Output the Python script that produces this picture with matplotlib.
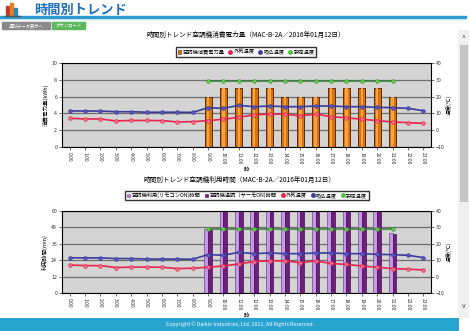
import numpy as np
import matplotlib.pyplot as plt
from matplotlib.patches import Rectangle, Patch
from matplotlib.lines import Line2D

plt.rcParams['font.family'] = ['Noto Sans CJK JP', 'DejaVu Sans']

hours = ['%d:00' % h for h in range(24)]
# kWh per hour (chart 1)
power = [0, 0, 0, 0, 0, 0, 0, 0, 0, 6, 7, 7, 7, 7, 6, 6, 6, 7, 7, 7, 7, 6, 0, 0]
# minutes per hour (chart 2)
use_remote = [0, 0, 0, 0, 0, 0, 0, 0, 0, 47, 60, 60, 60, 60, 60, 60, 60, 60, 60, 60, 60, 44, 0, 0]
use_thermo = [0, 0, 0, 0, 0, 0, 0, 0, 0, 46, 60, 60, 60, 60, 60, 60, 60, 60, 60, 60, 60, 43, 0, 0]
# temperatures (deg C)
outdoor = [7.1, 6.7, 6.7, 5.5, 5.8, 5.8, 5.7, 4.9, 5.1, 5.7, 6.5, 7.7,
           9.2, 9.6, 9.6, 8.5, 9.6, 8.0, 7.4, 6.5, 5.7, 4.9, 4.5, 4.1]
inlet = [11.5, 11.4, 11.4, 11.0, 11.0, 10.7, 10.7, 10.7, 10.6, 13.4, 13.0, 14.8,
         14.0, 14.4, 14.0, 14.0, 14.4, 14.4, 14.0, 14.0, 13.6, 13.4, 13.0, 11.6]
setpoint = [np.nan] * 9 + [29] * 13 + [np.nan] * 2

W, H = 470, 331
fig = plt.figure(figsize=(W / 100, H / 100), dpi=100)
fig.patch.set_facecolor('white')


def box(x0, y0, x1, y1):
    return [x0 / W, 1 - y1 / H, (x1 - x0) / W, (y1 - y0) / H]


bg = fig.add_axes([0, 0, 1, 1])
bg.set_xlim(0, W)
bg.set_ylim(H, 0)
bg.axis('off')

# header
bg.add_patch(Rectangle((6, 6), 3, 9, color='#c0392b'))
bg.add_patch(Rectangle((10, 3), 3, 12, color='#e67e22'))
bg.add_patch(Rectangle((14, 8), 3, 7, color='#2e86c1'))
bg.plot([5, 20], [15.5, 15.5], color='#555555', lw=1)
bg.text(34, 9.5, '時間別トレンド', color='#1f6fbf', fontsize=9.5, fontweight='bold',
        va='center', ha='left')
bg.add_patch(Rectangle((0, 16), 466, 2.2, color='#2e9bd0'))
for i in range(6):
    bg.add_patch(Rectangle((0, 18.2 + i), 466, 1, color='#2e9bd0', alpha=0.12 - i * 0.02, lw=0))
bg.add_patch(Rectangle((2, 22), 48, 6.5, color='#8a8a8a'))
bg.text(26, 25.3, '週別データ表示へ', color='white', fontsize=3.2, ha='center', va='center')
bg.add_patch(Rectangle((52, 22), 33, 6.5, color='#5cb85c'))
bg.text(68.5, 25.3, 'ダウンロード', color='white', fontsize=3.2, ha='center', va='center')

# scrollbar
bg.add_patch(Rectangle((458, 30), 11, 288, color='#f0f0f0', lw=0))
bg.add_patch(Rectangle((459.5, 45), 8, 157, color='#c4c4c4', lw=0))
bg.text(463.5, 38, '^', fontsize=5, ha='center', va='center', color='#444444')
bg.text(463.5, 306, 'v', fontsize=5, ha='center', va='center', color='#444444')

# footer
bg.add_patch(Rectangle((0, 318), 459, 13, color='#29a3cf', lw=0))
bg.text(240, 324.5, 'Copyright © Daikin Industries, Ltd. 2011, All Rights Reserved.',
        color='white', fontsize=3.8, ha='center', va='center')

x = np.arange(24)
C_RED, C_BLUE, C_GREEN = '#e8254d', '#3b3b9c', '#3f7f3f'


def style_axes(ax, ax2, ymax, yticks, ylabel):
    ax.set_facecolor('#d4d4d4')
    ax.set_xlim(-0.5, 23.5)
    ax.set_ylim(0, ymax)
    ax.set_yticks(yticks)
    ax.yaxis.grid(True, color='#6e6e6e', lw=0.9)
    ax.set_axisbelow(True)
    ax.set_xticks(x)
    ax.set_xticklabels(hours, rotation=270, fontsize=3.6)
    ax.tick_params(axis='both', length=2, width=0.5, pad=1.5, colors='#333333', labelsize=3.8)
    ax.tick_params(axis='x', labelsize=3.6)
    for s in ax.spines.values():
        s.set_color('#666666')
        s.set_linewidth(0.6)
    ax.set_ylabel(ylabel, fontsize=4, labelpad=2)
    ax2.set_ylim(-10, 40)
    ax2.set_yticks([-10, 0, 10, 20, 30, 40])
    ax2.tick_params(axis='y', length=2, width=0.5, pad=1.5, labelsize=3.8, colors='#333333')
    ax2.set_ylabel('温度(℃)', fontsize=4, labelpad=1, rotation=90)


def draw_lines(ax2):
    ax2.plot(x, outdoor, color=C_RED, lw=1.2, marker='o', ms=2.6, mfc='#f07890', mec=C_RED, mew=0.5, zorder=3)
    ax2.plot(x, inlet, color=C_BLUE, lw=1.2, marker='o', ms=2.6, mfc='#5b5bc8', mec=C_BLUE, mew=0.5, zorder=3)
    ax2.plot(x, setpoint, color=C_GREEN, lw=1.2, marker='o', ms=2.6, mfc='#6fd04a', mec='#3a9a3a', mew=0.5, zorder=3)


def legend_handles(bar_items):
    hs = [Patch(facecolor=c, edgecolor=e, lw=0.4, label=l) for l, c, e in bar_items]
    hs += [Line2D([], [], ls='none', marker='o', ms=2.5, color=C_RED, label='外気温度'),
           Line2D([], [], ls='none', marker='o', ms=2.5, color=C_BLUE, label='吸込温度'),
           Line2D([], [], ls='none', marker='o', ms=2.5, color='#4fbf3f', label='設定温度')]
    return hs


leg_kw = dict(loc='center', fontsize=3.8, frameon=True, fancybox=False, edgecolor='#333333',
              framealpha=1, handlelength=0.6, handleheight=0.6, handletextpad=0.3,
              columnspacing=0.8, borderpad=0.35)

# chart 1
ax = fig.add_axes(box(62, 63, 431, 147))
ax2 = ax.twinx()
ax.bar(x, power, width=0.46, color='#d8720c', edgecolor='#5e2c00', lw=0.7, zorder=2)
ax.bar(x, power, width=0.16, color='#f6a348', lw=0, zorder=2)
draw_lines(ax2)
style_axes(ax, ax2, 10, [0, 2, 4, 6, 8, 10], '消費電力量(kWh)')
ax.set_xlabel('時', fontsize=4, labelpad=1)
fig.text(246 / W, 1 - 35 / H, '時間別トレンド空調機消費電力量（MAC-B-2A／2016年01月12日）',
         fontsize=4.8, ha='center', va='center')
fig.legend(handles=legend_handles([('空調機消費電力量', '#d8720c', '#5e2c00')]),
           bbox_to_anchor=(246 / W, 1 - 52 / H), ncol=4, **leg_kw)

# chart 2
bx = fig.add_axes(box(62, 211, 431, 293))
bx2 = bx.twinx()
bx.bar(x - 0.12, use_remote, width=0.24, color='#c39be0', edgecolor='#7b3f9e', lw=0.5, zorder=2)
bx.bar(x + 0.12, use_thermo, width=0.24, color='#6e1f7e', edgecolor='#4a0c58', lw=0.5, zorder=2)
draw_lines(bx2)
style_axes(bx, bx2, 60, [0, 12, 24, 36, 48, 60], '利用時間(min)')
bx.set_xlabel('時', fontsize=4, labelpad=1)
fig.text(240 / W, 1 - 180 / H, '時間別トレンド空調機利用時間（MAC-B-2A／2016年01月12日）',
         fontsize=4.8, ha='center', va='center')
fig.legend(handles=legend_handles([('空調機利用(リモコンON)時間', '#b07fd6', '#7b3f9e'),
                                   ('空調機温調（サーモON)時間', '#6e1f7e', '#4a0c58')]),
           bbox_to_anchor=(247 / W, 1 - 195.5 / H), ncol=5, **leg_kw)

fig.savefig('out.png', dpi=100)
